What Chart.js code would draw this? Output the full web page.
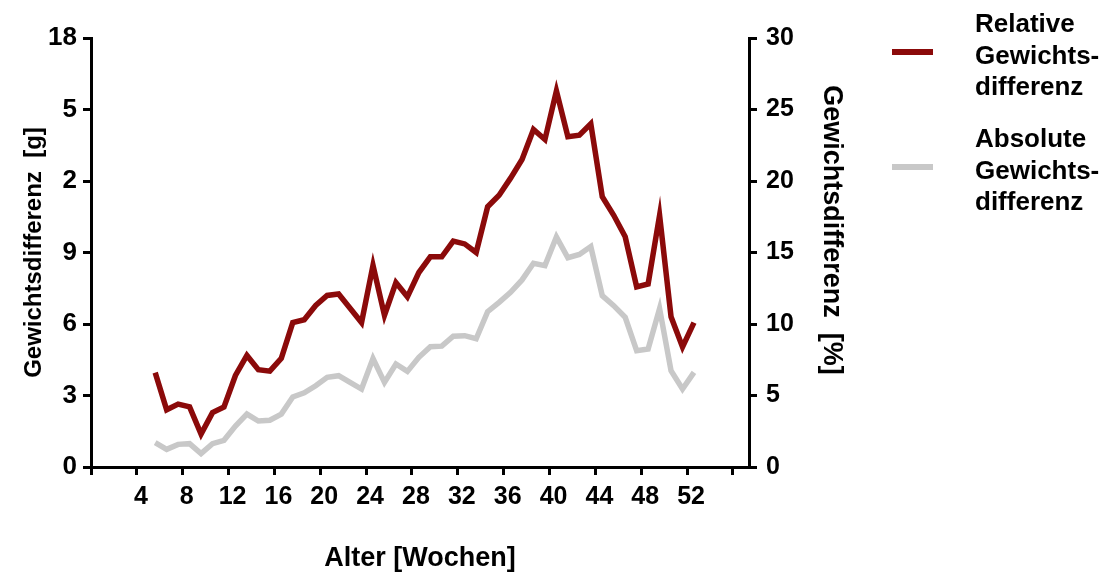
<!DOCTYPE html>
<html>
<head>
<meta charset="utf-8">
<script src="https://cdn.jsdelivr.net/npm/chart.js@4.4.1/dist/chart.umd.min.js"></script>
<style>
  html, body { margin: 0; padding: 0; background: #fff; }
</style>
</head>
<body>
<canvas id="pic" width="1111" height="575"></canvas>
<script>
// age in weeks for each measurement
var ages = [5.6, 6.6, 7.6, 8.6, 9.6, 10.6, 11.6, 12.6, 13.6, 14.6, 15.6, 16.6,
            17.6, 18.6, 19.6, 20.6, 21.6, 22.6, 23.6, 24.6, 25.6, 26.6, 27.6, 28.6,
            29.6, 30.6, 31.6, 32.6, 33.6, 34.6, 35.6, 36.6, 37.6, 38.6, 39.6, 40.6,
            41.6, 42.6, 43.6, 44.6, 45.6, 46.6, 47.6, 48.6, 49.6, 50.6, 51.6, 52.6];
// relative difference [%] (right axis)
var relDiff = [6.6, 4.0, 4.4, 4.2, 2.3, 3.8, 4.2, 6.4, 7.8, 6.8, 6.7, 7.6,
               10.1, 10.3, 11.3, 12.0, 12.1, 11.1, 10.1, 14.1, 10.6, 12.9, 11.9, 13.6,
               14.7, 14.7, 15.8, 15.6, 15.0, 18.2, 19.0, 20.2, 21.5, 23.6, 22.9, 26.3,
               23.1, 23.2, 24.0, 18.9, 17.6, 16.1, 12.6, 12.8, 17.6, 10.5, 8.4, 10.1];
// absolute difference [g] (left axis)
var absDiff = [1.02, 0.74, 0.95, 0.98, 0.56, 0.98, 1.12, 1.72, 2.22, 1.93, 1.96, 2.22,
               2.94, 3.11, 3.41, 3.76, 3.83, 3.55, 3.27, 4.55, 3.55, 4.32, 4.01, 4.60,
               5.05, 5.07, 5.49, 5.51, 5.38, 6.52, 6.91, 7.33, 7.85, 8.55, 8.45, 9.65,
               8.78, 8.92, 9.25, 7.19, 6.77, 6.28, 4.88, 4.95, 6.65, 4.04, 3.27, 3.97];

var xTickValues = [0, 4, 8, 12, 16, 20, 24, 28, 32, 36, 40, 44, 48, 52, 56];
var xTickLabels = ['', '4', '8', '12', '16', '20', '24', '28', '32', '36', '40', '44', '48', '52', ''];
var gTickLabels = ['0', '3', '6', '9', '2', '5', '18'];
var pctTickLabels = ['0', '5', '10', '15', '20', '25', '30'];
var legendText = [['Relative', 'Gewichts-', 'differenz'], ['Absolute', 'Gewichts-', 'differenz']];

var FONT = '"Liberation Sans", Arial, Helvetica, sans-serif';

function pts(xs, ys) {
    return xs.map(function (x, i) { return { x: x, y: ys[i] }; });
}

// legend drawn at the right, labels broken over three lines
var sideLegend = {
    id: 'sideLegend',
    afterDraw: function (chart) {
        var c = chart.ctx;
        var rows = [32, 147];
        c.save();
        c.font = 'bold 26px ' + FONT;
        c.textBaseline = 'alphabetic';
        c.fillStyle = '#000';
        chart.data.datasets.forEach(function (ds, i) {
            var y0 = rows[i];
            c.strokeStyle = ds.borderColor;
            c.lineWidth = 6;
            c.beginPath();
            c.moveTo(892, y0 + 20);
            c.lineTo(933, y0 + 20);
            c.stroke();
            legendText[i].forEach(function (t, k) {
                c.fillText(t, 975, y0 + k * 31.5);
            });
        });
        c.restore();
    }
};

var axisGrid = {
    display: true,
    drawOnChartArea: false,
    drawTicks: true,
    color: '#000',
    lineWidth: 3,
    tickLength: 8
};
var axisBorder = { display: true, color: '#000', width: 3 };

var chart = new Chart(document.getElementById('pic').getContext('2d'), {
    type: 'line',
    data: {
        datasets: [{
            label: legendText[0].join(' '),
            data: pts(ages, relDiff),
            yAxisID: 'y1',
            borderColor: '#8b0a0a',
            backgroundColor: '#8b0a0a',
            borderWidth: 5.5,
            pointRadius: 0,
            tension: 0,
            fill: false
        }, {
            label: legendText[1].join(' '),
            data: pts(ages, absDiff),
            yAxisID: 'y',
            borderColor: '#c8c8c8',
            backgroundColor: '#c8c8c8',
            borderWidth: 5.5,
            pointRadius: 0,
            tension: 0,
            fill: false
        }]
    },
    options: {
        responsive: false,
        animation: false,
        layout: { padding: { top: 38, right: 259, bottom: 0, left: 0 } },
        plugins: {
            legend: { display: false },
            tooltip: { enabled: false }
        },
        scales: {
            x: {
                type: 'linear',
                min: 0,
                max: 57.4,
                grid: axisGrid,
                border: axisBorder,
                afterBuildTicks: function (s) {
                    s.ticks = xTickValues.map(function (v) { return { value: v }; });
                },
                afterFit: function (s) { s.height = 108; },
                ticks: {
                    autoSkip: false,
                    maxRotation: 0,
                    padding: 7,
                    labelOffset: 4,
                    color: '#000',
                    font: { family: FONT, size: 25, weight: 'bold' },
                    callback: function (v, i) { return xTickLabels[i]; }
                },
                title: {
                    display: true,
                    text: 'Alter [Wochen]',
                    color: '#000',
                    padding: { top: 0, bottom: 0 },
                    font: { family: FONT, size: 27, weight: 'bold' }
                }
            },
            y: {
                position: 'left',
                min: 0,
                max: 18,
                grid: axisGrid,
                border: axisBorder,
                afterFit: function (s) { s.width = 91; },
                ticks: {
                    stepSize: 3,
                    padding: 6,
                    color: '#000',
                    font: { family: FONT, size: 26, weight: 'bold' },
                    callback: function (v, i) { return gTickLabels[i]; }
                },
                title: {
                    display: true,
                    text: 'Gewichtsdifferenz  [g]',
                    color: '#000',
                    padding: { top: 20, bottom: 0 },
                    font: { family: FONT, size: 24, weight: 'bold' }
                }
            },
            y1: {
                position: 'right',
                min: 0,
                max: 30,
                grid: axisGrid,
                border: axisBorder,
                afterFit: function (s) { s.width = 103; },
                ticks: {
                    stepSize: 5,
                    padding: 9,
                    color: '#000',
                    font: { family: FONT, size: 25, weight: 'bold' },
                    callback: function (v, i) { return pctTickLabels[i]; }
                },
                title: {
                    display: true,
                    text: 'Gewichtsdifferenz  [%]      ',
                    color: '#000',
                    padding: { top: 4, bottom: 0 },
                    font: { family: FONT, size: 27, weight: 'bold' }
                }
            }
        }
    },
    plugins: [sideLegend]
});
</script>
</body>
</html>
